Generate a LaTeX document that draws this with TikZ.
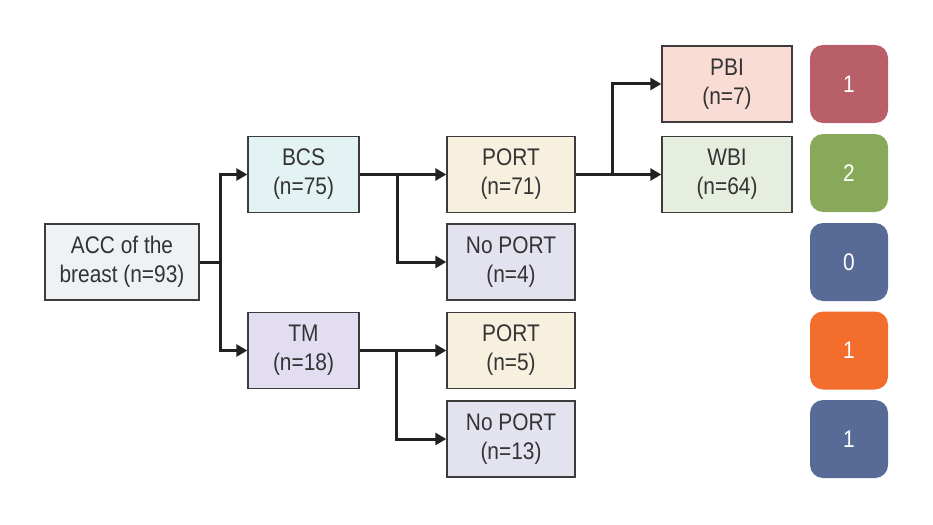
\documentclass[tikz,border=0pt]{standalone}
\usepackage{fontspec}
\setmainfont{Liberation Sans}[FakeStretch=0.87]
\usetikzlibrary{arrows.meta}
\definecolor{txt}{HTML}{333333}
\definecolor{edge}{HTML}{3C3C3C}
\definecolor{cacc}{HTML}{EEF2F4}
\definecolor{cbcs}{HTML}{E3F2F2}
\definecolor{ctm}{HTML}{E2DDF0}
\definecolor{cport}{HTML}{F8F0DE}
\definecolor{cnoport}{HTML}{E2E3EF}
\definecolor{cpbi}{HTML}{F9DCD3}
\definecolor{cwbi}{HTML}{E6EFDF}
\definecolor{sqrose}{HTML}{B85F68}
\definecolor{sqgreen}{HTML}{88A95A}
\definecolor{sqblue}{HTML}{586A96}
\definecolor{sqorange}{HTML}{F36D2D}
\definecolor{lineclr}{HTML}{222222}
\tikzset{
  box/.style={draw=edge, line width=1.4pt, text=txt, align=center, inner sep=0pt,
    font=\fontsize{24}{29}\selectfont, minimum height=76pt},
  sq/.style={rounded corners=13pt, minimum width=78pt, minimum height=78pt, inner sep=0pt,
    text=white, font=\fontsize{24}{29}\selectfont},
  conn/.style={draw=lineclr, line width=3pt},
  arr/.style={conn, -{Triangle[length=11pt,width=12pt]}}
}
\begin{document}
\begin{tikzpicture}[x=1pt,y=-1pt]
\useasboundingbox (0,0) rectangle (933,524);
\node[box, fill=cacc, minimum width=154pt] (acc) at (122,262) {ACC of the\\breast (n=93)};
\node[box, fill=cbcs, minimum width=111pt] (bcs) at (303.5,174.5) {BCS\\(n=75)};
\node[box, fill=ctm, minimum width=111pt] (tm) at (303.5,350.5) {TM\\(n=18)};
\node[box, fill=cport, minimum width=128pt] (port1) at (511,174.5) {PORT\\(n=71)};
\node[box, fill=cnoport, minimum width=128pt] (noport1) at (511,262) {No PORT\\(n=4)};
\node[box, fill=cport, minimum width=128pt] (port2) at (511,350.5) {PORT\\(n=5)};
\node[box, fill=cnoport, minimum width=128pt] (noport2) at (511,439) {No PORT\\(n=13)};
\node[box, fill=cpbi, minimum width=130pt] (pbi) at (727,84) {PBI\\(n=7)};
\node[box, fill=cwbi, minimum width=130pt] (wbi) at (727,174.5) {WBI\\(n=64)};
\node[sq, fill=sqrose] (s1) at (849,84) {1};
\node[sq, fill=sqgreen] (s2) at (849,173) {2};
\node[sq, fill=sqblue] (s3) at (849,262) {0};
\node[sq, fill=sqorange] (s4) at (849,350.5) {1};
\node[sq, fill=sqblue] (s5) at (849,439) {1};
% connectors
\coordinate (j1) at (220,262);
\draw[conn] (acc.east) -- (j1);
\draw[arr] (j1) |- (bcs.west);
\draw[arr] (j1) |- (tm.west);
\coordinate (j2) at (397,174.5);
\draw[arr] (bcs.east) -- (port1.west);
\draw[arr] (j2) |- (noport1.west);
\coordinate (j3) at (396,350.5);
\draw[arr] (tm.east) -- (port2.west);
\draw[arr] (j3) |- (noport2.west);
\coordinate (j4) at (612,174.5);
\draw[arr] (port1.east) -- (wbi.west);
\draw[arr] (j4) |- (pbi.west);
\end{tikzpicture}
\end{document}
